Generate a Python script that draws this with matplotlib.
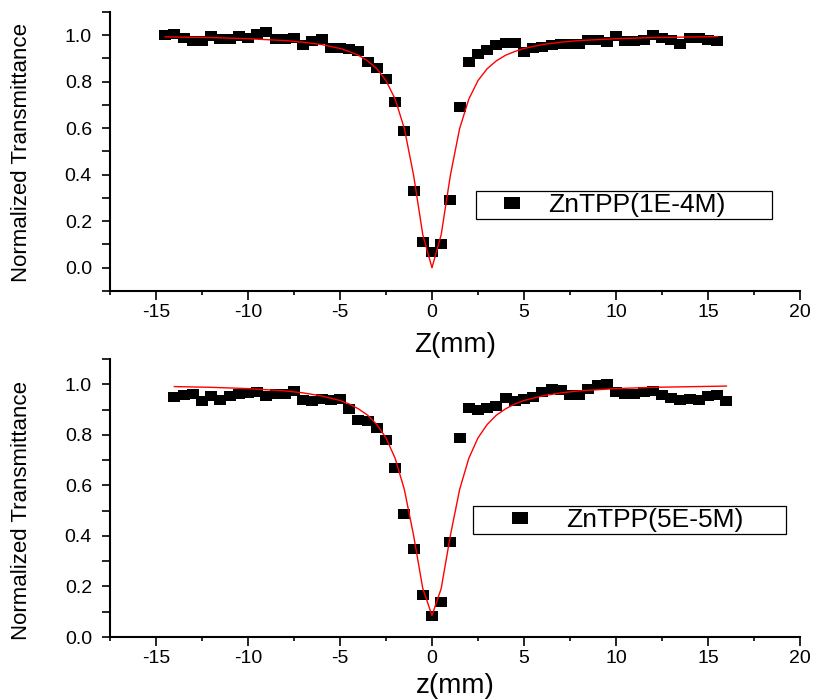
import numpy as np
import matplotlib
matplotlib.use("Agg")
import matplotlib.pyplot as plt
from matplotlib.path import Path
from matplotlib.ticker import MultipleLocator, FormatStrFormatter

plt.rcParams['font.family'] = ['Liberation Sans', 'DejaVu Sans']
plt.rcParams['axes.unicode_minus'] = False

# ---------------- data ----------------
z_top = [-14.5, -14.0, -13.5, -13.0, -12.5, -12.0, -11.5, -11.0, -10.5, -10.0,
         -9.5, -9.0, -8.5, -8.0, -7.5, -7.0, -6.5, -6.0, -5.5, -5.0,
         -4.5, -4.0, -3.5, -3.0, -2.5, -2.0, -1.5, -1.0, -0.5, 0.0,
         0.5, 1.0, 1.5, 2.0, 2.5, 3.0, 3.5, 4.0, 4.5, 5.0,
         5.5, 6.0, 6.5, 7.0, 7.5, 8.0, 8.5, 9.0, 9.5, 10.0,
         10.5, 11.0, 11.5, 12.0, 12.5, 13.0, 13.5, 14.0, 14.5, 15.0, 15.5]
T_top = [1.000, 1.007, 0.987, 0.974, 0.974, 0.996, 0.983, 0.983, 0.996, 0.990,
         1.004, 1.013, 0.983, 0.983, 0.987, 0.957, 0.974, 0.983, 0.944, 0.944,
         0.940, 0.930, 0.883, 0.860, 0.810, 0.714, 0.589, 0.332, 0.110, 0.069,
         0.102, 0.290, 0.690, 0.884, 0.920, 0.935, 0.957, 0.968, 0.968, 0.927,
         0.943, 0.950, 0.957, 0.964, 0.961, 0.964, 0.978, 0.981, 0.971, 0.996,
         0.976, 0.976, 0.978, 1.000, 0.986, 0.978, 0.961, 0.990, 0.986, 0.981, 0.976]

zfit_top = [-14.5, -12, -10, -8, -7, -6, -5, -4.5, -4, -3.5, -3, -2.5, -2, -1.5, -1, -0.5,
            0, 0.5, 1, 1.5, 2, 2.5, 3, 3.5, 4, 4.5, 5, 6, 7, 8, 10, 12, 15.5]
Tfit_top = [0.993, 0.990, 0.985, 0.977, 0.970, 0.960, 0.943, 0.930, 0.914, 0.890, 0.856,
            0.805, 0.725, 0.598, 0.398, 0.142, 0.000, 0.142, 0.398, 0.598, 0.725, 0.805,
            0.856, 0.890, 0.914, 0.930, 0.943, 0.960, 0.970, 0.977, 0.985, 0.990, 0.994]

z_bot = [-14.0, -13.5, -13.0, -12.5, -12.0, -11.5, -11.0, -10.5, -10.0, -9.5,
         -9.0, -8.5, -8.0, -7.5, -7.0, -6.5, -6.0, -5.5, -5.0, -4.5,
         -4.0, -3.5, -3.0, -2.5, -2.0, -1.5, -1.0, -0.5, 0.0, 0.5,
         1.0, 1.5, 2.0, 2.5, 3.0, 3.5, 4.0, 4.5, 5.0, 5.5,
         6.0, 6.5, 7.0, 7.5, 8.0, 8.5, 9.0, 9.5, 10.0, 10.5,
         11.0, 11.5, 12.0, 12.5, 13.0, 13.5, 14.0, 14.5, 15.0, 15.5, 16.0]
T_bot = [0.950, 0.956, 0.963, 0.934, 0.952, 0.937, 0.952, 0.963, 0.966, 0.970,
         0.952, 0.960, 0.963, 0.973, 0.939, 0.934, 0.943, 0.937, 0.943, 0.904,
         0.858, 0.855, 0.829, 0.778, 0.669, 0.488, 0.347, 0.166, 0.083, 0.139,
         0.375, 0.788, 0.906, 0.900, 0.906, 0.913, 0.947, 0.932, 0.941, 0.951,
         0.970, 0.983, 0.976, 0.958, 0.958, 0.983, 0.996, 1.000, 0.970, 0.960,
         0.963, 0.970, 0.973, 0.956, 0.947, 0.939, 0.943, 0.939, 0.953, 0.956, 0.934]

zfit_bot = [-14, -12, -10, -8, -7, -6, -5, -4.5, -4, -3.5, -3, -2.5, -2, -1.5, -1, -0.5,
            0, 0.5, 1, 1.5, 2, 2.5, 3, 3.5, 4, 4.5, 5, 6, 7, 8, 10, 12, 16]
Tfit_bot = [0.991, 0.988, 0.983, 0.974, 0.966, 0.954, 0.936, 0.922, 0.903, 0.878, 0.841,
            0.788, 0.707, 0.583, 0.402, 0.192, 0.085, 0.192, 0.402, 0.583, 0.707, 0.788,
            0.841, 0.878, 0.903, 0.922, 0.936, 0.954, 0.966, 0.974, 0.983, 0.988, 0.993]

labels = ["ZnTPP(1E-4M)", "ZnTPP(5E-5M)"]
xlabels = ["Z(mm)", "z(mm)"]
ylabel = "Normalized Transmittance"

# ---------------- style ----------------
rect = Path([(-1, -0.75), (1, -0.75), (1, 0.75), (-1, 0.75), (-1, -0.75)],
            [Path.MOVETO, Path.LINETO, Path.LINETO, Path.LINETO, Path.CLOSEPOLY])

fig = plt.figure(figsize=(8.17, 7.0), dpi=100)
ax1 = fig.add_axes([0.1346, 0.5843, 0.8446, 0.3986])
ax2 = fig.add_axes([0.1346, 0.0900, 0.8446, 0.3971])

panels = [
    (ax1, z_top, T_top, zfit_top, Tfit_top, labels[0], xlabels[0], (-0.1, 1.1),
     (0.5304, 0.3584, 0.429, 0.0), 2.72, 0.498, -0.148),
    (ax2, z_bot, T_bot, zfit_bot, Tfit_bot, labels[1], xlabels[1], (0.0, 1.1),
     (0.5260, 0.4710, 0.4536, 0.0), 3.6, 0.455, -0.128),
]

for ax, z, T, zf, Tf, lab, xl, ylim, bb, hl, ly, lx in panels:
    ax.plot(z, T, linestyle='none', marker=rect, markersize=8.8,
            color='black', markeredgewidth=0, label=lab, zorder=2)
    ax.plot(zf, Tf, color='red', linewidth=1.0, zorder=3)
    ax.set_xlim(-17.5, 20)
    ax.set_ylim(*ylim)
    for s in ['top', 'right']:
        ax.spines[s].set_visible(False)
    for s in ['left', 'bottom']:
        ax.spines[s].set_linewidth(1.5)
    ax.xaxis.set_major_locator(MultipleLocator(5))
    ax.xaxis.set_minor_locator(MultipleLocator(2.5))
    ax.yaxis.set_major_locator(MultipleLocator(0.2))
    ax.yaxis.set_minor_locator(MultipleLocator(0.1))
    ax.yaxis.set_major_formatter(FormatStrFormatter('%.1f'))
    ax.tick_params(axis='x', which='major', direction='out', length=6.3, width=1.2,
                   labelsize=14, pad=3)
    ax.tick_params(axis='x', which='minor', direction='out', length=3.2, width=1.2)
    ax.tick_params(axis='y', which='both', direction='out', length=6.0, width=1.2,
                   labelsize=14, pad=7)
    ax.set_xlabel(xl, fontsize=20, va='top')
    ax.xaxis.set_label_coords(0.5, lx)
    ax.set_ylabel(ylabel, fontsize=16)
    ax.yaxis.set_label_coords(-0.113, ly)
    leg = ax.legend(loc='upper left', bbox_to_anchor=bb, mode='expand',
                    borderaxespad=0, fontsize=19, frameon=True, fancybox=False,
                    edgecolor='black', framealpha=1, borderpad=0.08,
                    handlelength=hl * 18 / 19, handletextpad=0.06, markerscale=1.25,
                    numpoints=1)
    leg.get_frame().set_linewidth(0.9)

fig.savefig("out.png", dpi=100)
